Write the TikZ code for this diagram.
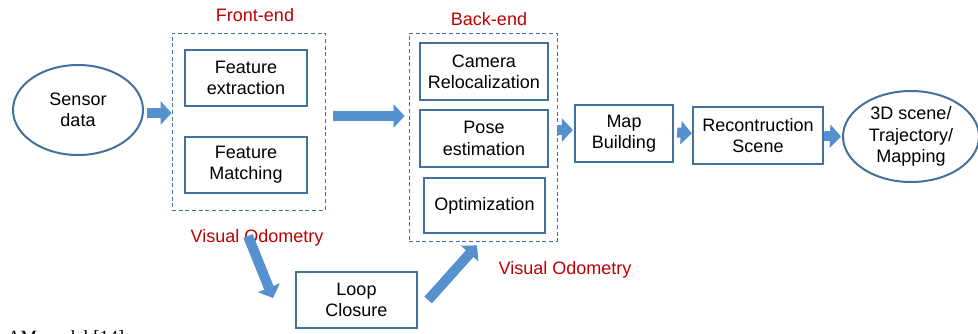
\documentclass[tikz,border=0pt]{standalone}
\usepackage{fontspec}
\setmainfont{Liberation Sans}
\newfontfamily\capfont{Liberation Serif}
\usetikzlibrary{arrows.meta,shapes.geometric,calc}
\definecolor{boxblue}{HTML}{41719C}
\definecolor{arrblue}{HTML}{5590CF}
\definecolor{redlab}{HTML}{C00000}
\newcommand{\pxu}{*0.75pt}
\newcommand{\labfont}{\fontsize{13.5}{16}\selectfont}
\tikzset{
  box/.style={draw=boxblue, line width=1.7pt, fill=white, align=center, font=\labfont, inner sep=0pt},
  ellbox/.style={ellipse, draw=boxblue, line width=1.5pt, fill=white, align=center, font=\labfont, inner sep=0pt},
  group/.style={draw=boxblue, line width=0.6pt, dash pattern=on 3pt off 2pt, inner sep=0pt},
  redlabel/.style={text=redlab, font=\labfont, inner sep=0pt},
  barrow/.style={draw=arrblue, line width=10\pxu, -{Triangle[width=23\pxu, length=11\pxu]}},
}
\begin{document}
\begin{tikzpicture}[x=0.75pt, y=-0.75pt]
\clip (0,0) rectangle (978,333);
\fill[white] (0,0) rectangle (978,333);

% groups
\node[group, minimum width=153\pxu, minimum height=177\pxu] (front) at (248.5,121.5) {};
\node[group, minimum width=148\pxu, minimum height=208\pxu] (back) at (483,137) {};
\node[redlabel] (fel) at (255,15) {Front-end};
\node[redlabel] (bel) at (489,19) {Back-end};

% nodes
\node[ellbox, minimum width=130\pxu, minimum height=90\pxu] (sensor) at (78,110) {Sensor\\data};
\node[box, minimum width=122\pxu, minimum height=56\pxu] (fext) at (246,78) {Feature\\extraction};
\node[box, minimum width=122\pxu, minimum height=56\pxu] (fmat) at (246,165) {Feature\\Matching};
\node[box, minimum width=128\pxu, minimum height=57\pxu] (cam) at (484,71.5) {Camera\\Relocalization};
\node[box, minimum width=128\pxu, minimum height=57\pxu] (pose) at (484,138.5) {Pose\\estimation};
\node[box, minimum width=121\pxu, minimum height=55\pxu] (opt) at (484.5,205.5) {Optimization};
\node[box, minimum width=98\pxu, minimum height=57\pxu] (map) at (624,133.5) {Map\\Building};
\node[box, minimum width=130\pxu, minimum height=57\pxu] (rec) at (758,135.5) {Recontruction\\Scene};
\node[ellbox, minimum width=136\pxu, minimum height=91\pxu] (out) at (911,136.5) {3D scene/\\Trajectory/\\Mapping};
\node[box, minimum width=121\pxu, minimum height=56\pxu] (loop) at (356.5,300) {Loop\\Closure};

\node[redlabel] (vo1) at (257,238) {Visual Odometry};
\node[redlabel] (vo2) at (565,270) {Visual Odometry};

% caption fragment
\node[anchor=base west, inner sep=0pt, font=\capfont\fontsize{14}{16}\selectfont] (cap) at (7,343) {AM model [14]};

% arrows
\coordinate (t1) at (273,298);
\draw[barrow] ([shift={(3,3)}]sensor.east) -- ([shift={(0,-8.5)}]front.west);
\draw[barrow] ([shift={(8,-5.5)}]front.east) -- ([shift={(-4,-21)}]back.west);
\draw[barrow] ([shift={(0,-7)}]back.east) -- ([shift={(-1,-3.5)}]map.west);
\draw[barrow] ([shift={(3,-1)}]map.east) -- ([shift={(0,-2)}]rec.west);
\draw[barrow] ([shift={(0,0.5)}]rec.east) -- ([shift={(-1,0)}]out.west);
\draw[barrow] ([shift={(-9,-2)}]vo1.center) -- (t1);
\draw[barrow] ([shift={(10,0)}]loop.east) -- ([shift={(-6,4)}]back.south);
\end{tikzpicture}
\end{document}
